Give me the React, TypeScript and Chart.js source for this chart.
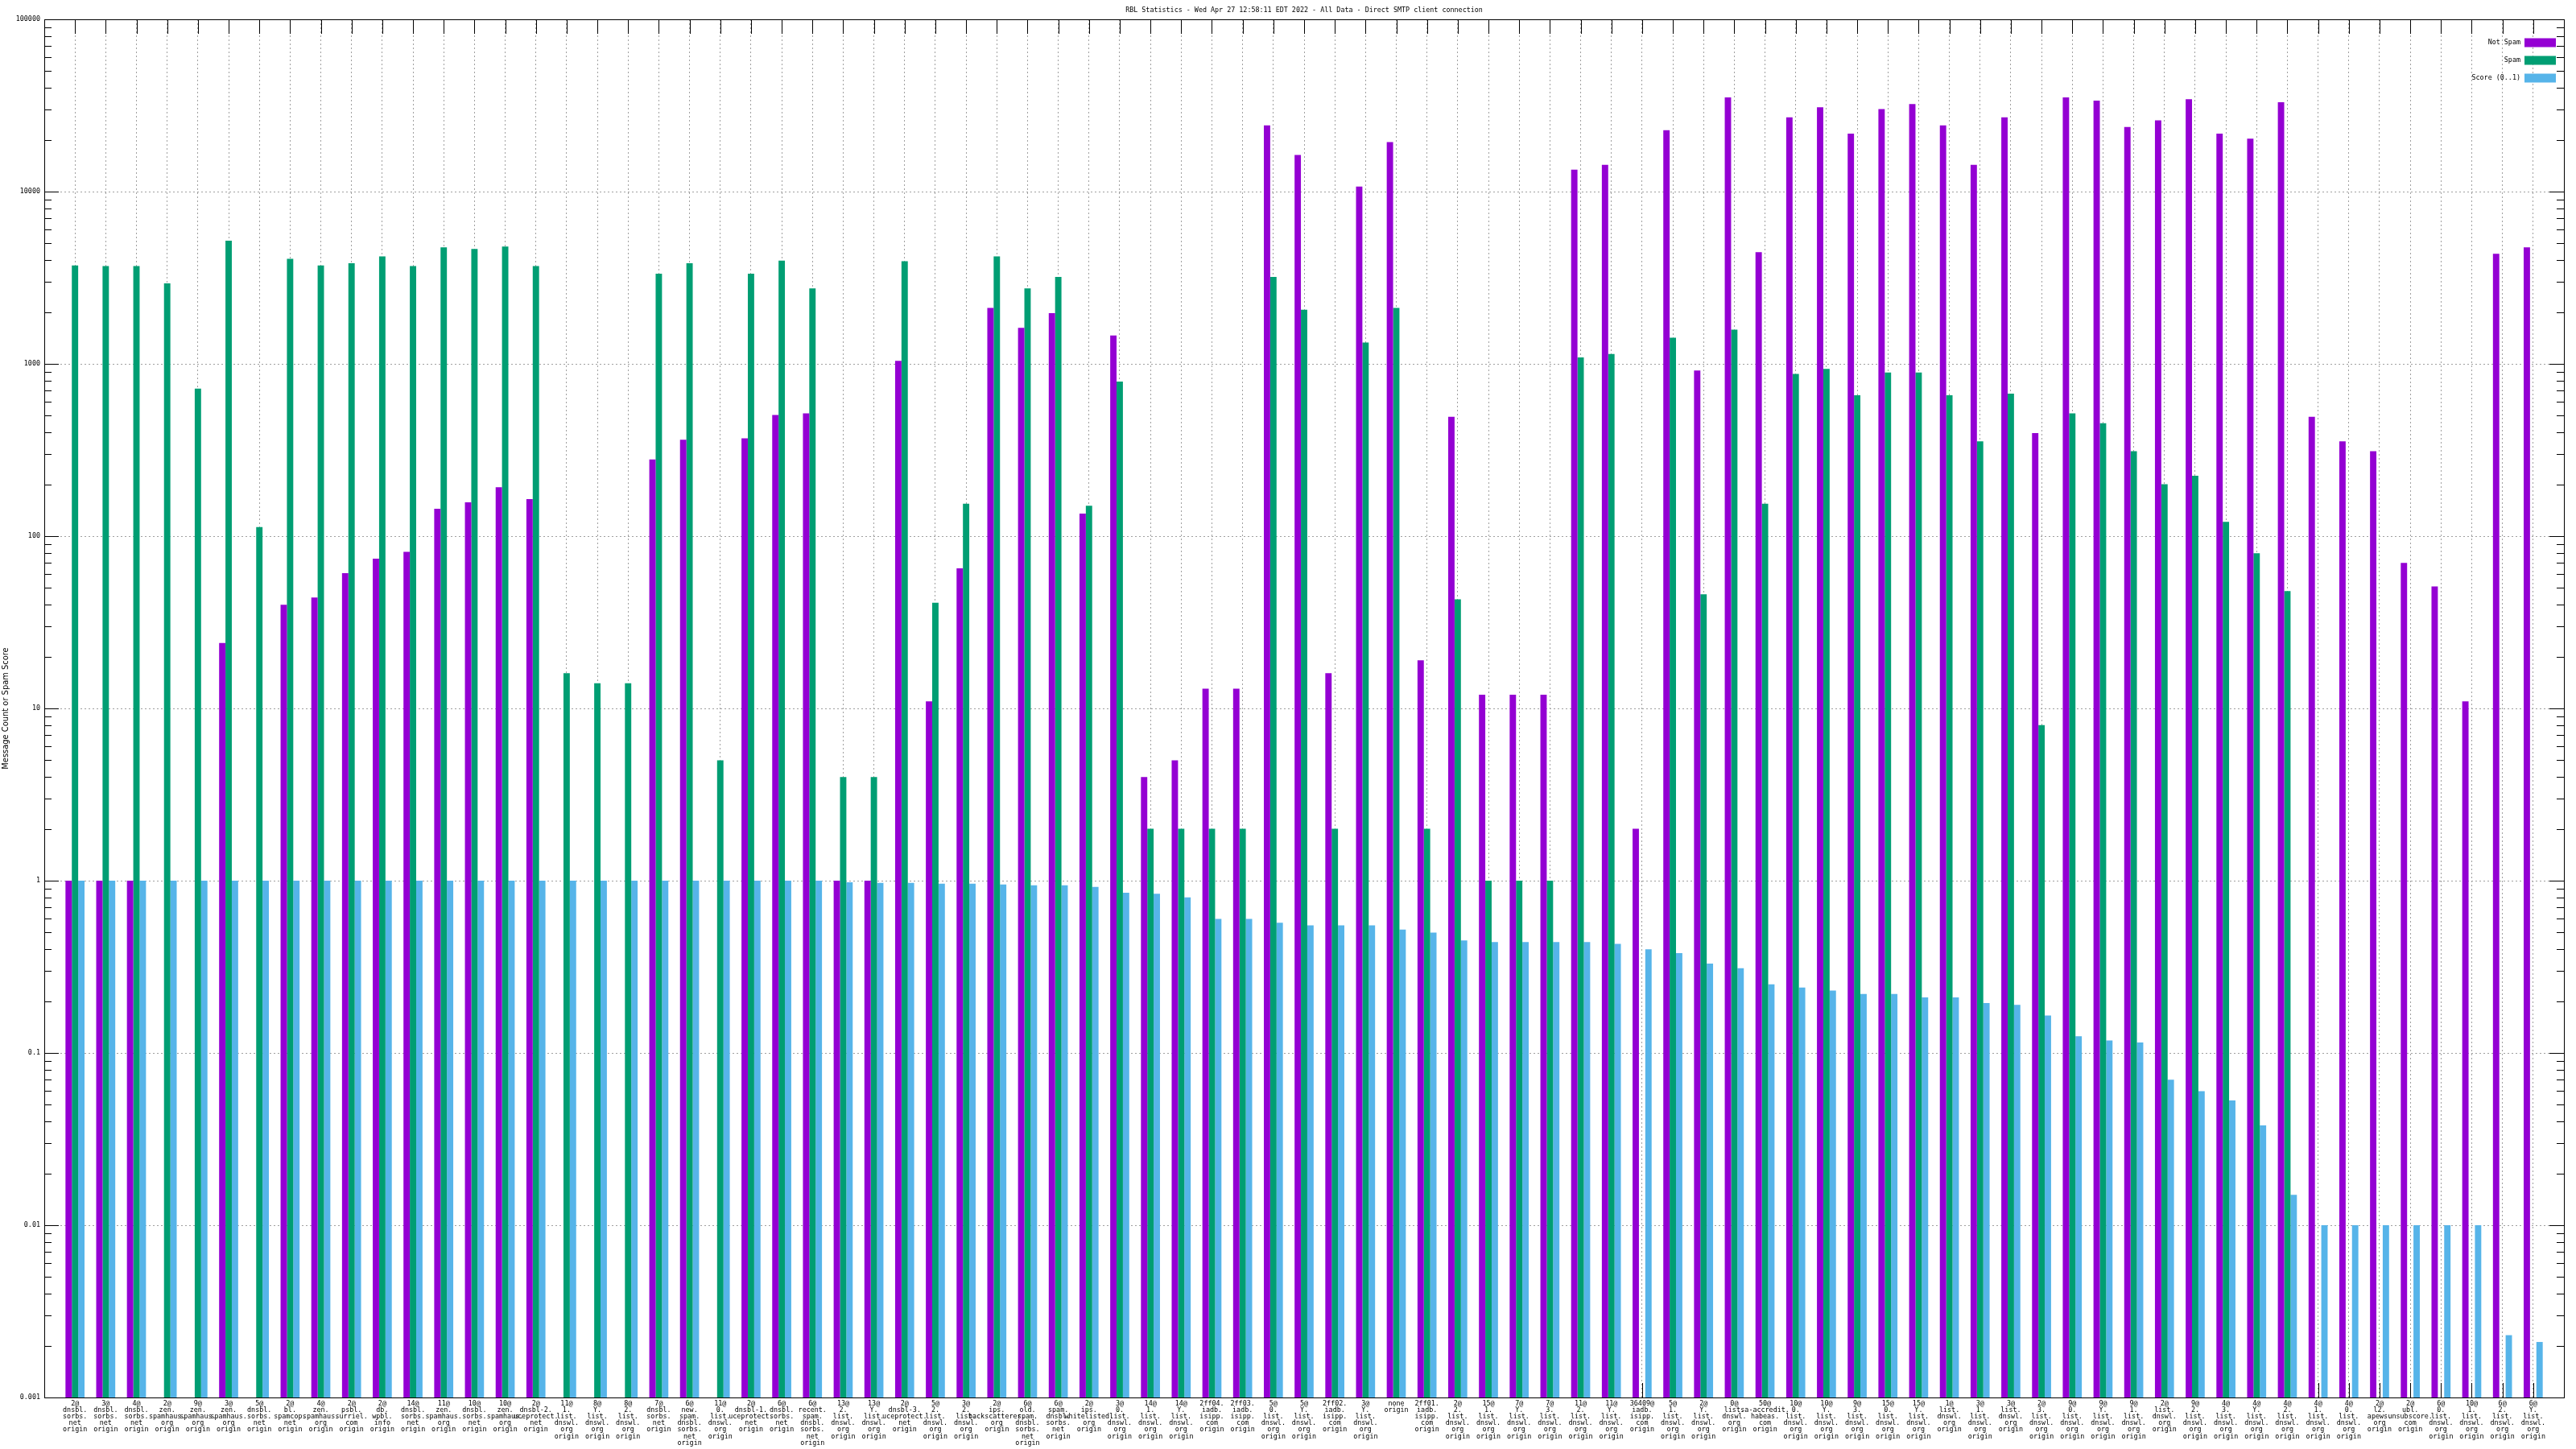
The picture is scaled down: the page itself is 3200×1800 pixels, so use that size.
import React, { useEffect, useRef } from 'react';
import { Chart, registerables } from 'chart.js';

Chart.register(...registerables);

const chartTitle =
  'RBL Statistics - Wed Apr 27 12:58:11 EDT 2022 - All Data - Direct SMTP client connection';
const yAxisTitle = 'Message Count or Spam Score';
const seriesNames = ['Not Spam', 'Spam', 'Score (0..1)'];
const seriesColors = ['#9400d3', '#009e73', '#56b4e9'];

const categories = [
  '2@dnsbl.sorbs.net origin', '3@dnsbl.sorbs.net origin', '4@dnsbl.sorbs.net origin',
  '2@zen.spamhaus.org origin', '9@zen.spamhaus.org origin', '3@zen.spamhaus.org origin',
  '5@dnsbl.sorbs.net origin', '2@bl.spamcop.net origin', '4@zen.spamhaus.org origin',
  '2@psbl.surriel.com origin', '2@db.wpbl.info origin', '14@dnsbl.sorbs.net origin',
  '11@zen.spamhaus.org origin', '10@dnsbl.sorbs.net origin', '10@zen.spamhaus.org origin',
  '2@dnsbl-2.uceprotect.net origin', '11@1.list.dnswl.org origin', '8@Y.list.dnswl.org origin',
  '8@2.list.dnswl.org origin', '7@dnsbl.sorbs.net origin', '6@new.spam.dnsbl.sorbs.net origin',
  '11@0.list.dnswl.org origin', '2@dnsbl-1.uceprotect.net origin', '6@dnsbl.sorbs.net origin',
  '6@recent.spam.dnsbl.sorbs.net origin', '13@2.list.dnswl.org origin', '13@Y.list.dnswl.org origin',
  '2@dnsbl-3.uceprotect.net origin', '5@2.list.dnswl.org origin', '3@2.list.dnswl.org origin',
  '2@ips.backscatterer.org origin', '6@old.spam.dnsbl.sorbs.net origin', '6@spam.dnsbl.sorbs.net origin',
  '2@ips.whitelisted.org origin', '3@0.list.dnswl.org origin', '14@1.list.dnswl.org origin',
  '14@Y.list.dnswl.org origin', '2ff04.iadb.isipp.com origin', '2ff03.iadb.isipp.com origin',
  '5@0.list.dnswl.org origin', '5@Y.list.dnswl.org origin', '2ff02.iadb.isipp.com origin',
  '3@Y.list.dnswl.org origin', 'none origin', '2ff01.iadb.isipp.com origin',
  '2@2.list.dnswl.org origin', '15@1.list.dnswl.org origin', '7@Y.list.dnswl.org origin',
  '7@3.list.dnswl.org origin', '11@2.list.dnswl.org origin', '11@Y.list.dnswl.org origin',
  '36409@iadb.isipp.com origin', '5@1.list.dnswl.org origin', '2@Y.list.dnswl.org origin',
  '0@list.dnswl.org origin', '50@sa-accredit.habeas.com origin', '10@0.list.dnswl.org origin',
  '10@Y.list.dnswl.org origin', '9@3.list.dnswl.org origin', '15@0.list.dnswl.org origin',
  '15@Y.list.dnswl.org origin', '1@list.dnswl.org origin', '3@1.list.dnswl.org origin',
  '3@list.dnswl.org origin', '2@3.list.dnswl.org origin', '9@0.list.dnswl.org origin',
  '9@Y.list.dnswl.org origin', '9@1.list.dnswl.org origin', '2@list.dnswl.org origin',
  '9@2.list.dnswl.org origin', '4@3.list.dnswl.org origin', '4@Y.list.dnswl.org origin',
  '4@2.list.dnswl.org origin', '4@1.list.dnswl.org origin', '4@0.list.dnswl.org origin',
  '2@l2.apews.org origin', '2@ubl.unsubscore.com origin', '6@0.list.dnswl.org origin',
  '10@1.list.dnswl.org origin', '6@2.list.dnswl.org origin', '6@Y.list.dnswl.org origin',
];

const notSpam: (number | null)[] = [
  1, 1, 1, null, null, 24, null, 40, 44, 61,
  74, 81, 144, 157, 192, 164, null, null, null, 279,
  363, null, 370, 505, 516, 1, 1, 1040, 11, 65,
  2110, 1620, 1970, 135, 1460, 4, 5, 13, 13, 24200,
  16300, 16, 10700, 19400, 19, 493, 12, 12, 12, 13400,
  14300, 2, 22700, 914, 35200, 4450, 27000, 30900, 21700, 30100,
  32200, 24200, 14300, 27000, 396, 35200, 33700, 23700, 25900, 34400,
  21700, 20300, 33000, 493, 355, 311, 70, 51, 11, 4360,
  4750,
];

const spam: (number | null)[] = [
  3730, 3700, 3700, 2930, 718, 5190, 113, 4070, 3730, 3840,
  4200, 3700, 4750, 4650, 4800, 3700, 16, 14, 14, 3340,
  3840, 5, 3340, 3980, 2740, 4, 4, 3940, 41, 154,
  4200, 2740, 3200, 150, 790, 2, 2, 2, 2, 3200,
  2060, 2, 1330, 2110, 2, 43, 1, 1, 1, 1090,
  1140, null, 1420, 46, 1580, 154, 875, 935, 658, 890,
  890, 658, 355, 671, 8, 516, 452, 311, 200, 224,
  121, 79.5, 48, null, null, null, null, null, null, null,
  null,
];

const score: (number | null)[] = [
  1, 1, 1, 1, 1, 1, 1, 1, 1, 1,
  1, 1, 1, 1, 1, 1, 1, 1, 1, 1,
  1, 1, 1, 1, 1, 0.98, 0.97, 0.97, 0.96, 0.96,
  0.95, 0.94, 0.94, 0.92, 0.85, 0.84, 0.8, 0.6, 0.6, 0.57,
  0.55, 0.55, 0.55, 0.52, 0.5, 0.45, 0.44, 0.44, 0.44, 0.44,
  0.43, 0.4, 0.38, 0.33, 0.31, 0.25, 0.24, 0.23, 0.22, 0.22,
  0.21, 0.21, 0.195, 0.19, 0.165, 0.125, 0.118, 0.115, 0.07, 0.06,
  0.053, 0.038, 0.015, 0.01, 0.01, 0.01, 0.01, 0.01, 0.01, 0.0023,
  0.0021,
];

const yTickLabels = ['0.001', '0.01', '0.1', '1', '10', '100', '1000', '10000', '100000'];

const MONO = '"DejaVu Sans Mono", "Liberation Mono", monospace';
const NARROW = '"Liberation Sans Narrow", "DejaVu Sans Condensed", "DejaVu Sans", sans-serif';

function splitLabel(s: string): string[] {
  const [host, tail] = s.split(' ');
  const parts: string[] = [];
  let cur = '';
  for (const ch of host) {
    cur += ch;
    if (ch === '@' || ch === '.') {
      parts.push(cur);
      cur = '';
    }
  }
  if (cur) parts.push(cur);
  if (tail) parts.push(tail);
  return parts;
}

const isDecade = (v: number) => {
  const l = Math.log10(v);
  return Math.abs(l - Math.round(l)) < 1e-6;
};

const decor = {
  id: 'decor',
  beforeDatasetsDraw(chart: any) {
    const { ctx, chartArea: a, scales } = chart;
    const x = scales.x;
    const y = scales.y;
    ctx.save();
    ctx.strokeStyle = '#000';
    ctx.lineWidth = 1;
    ctx.beginPath();
    for (const t of y.ticks) {
      const py = Math.round(y.getPixelForValue(t.value)) + 0.5;
      const len = isDecade(t.value) ? 18 : 9;
      ctx.moveTo(a.left, py);
      ctx.lineTo(a.left + len, py);
      ctx.moveTo(a.right, py);
      ctx.lineTo(a.right - len, py);
    }
    for (const t of x.ticks) {
      const px = Math.round(x.getPixelForValue(t.value)) + 0.5;
      ctx.moveTo(px, a.top);
      ctx.lineTo(px, a.top + 18);
      ctx.moveTo(px, a.bottom);
      ctx.lineTo(px, a.bottom - 18);
    }
    ctx.stroke();
    ctx.restore();
  },
  afterDraw(chart: any) {
    const { ctx, chartArea: a } = chart;
    ctx.save();
    ctx.strokeStyle = '#000';
    ctx.lineWidth = 1;
    ctx.strokeRect(
      Math.round(a.left) + 0.5,
      Math.round(a.top) + 0.5,
      Math.round(a.right - a.left),
      Math.round(a.bottom - a.top)
    );
    ctx.fillStyle = '#000';
    ctx.font = `8.4px ${MONO}`;
    ctx.textAlign = 'center';
    ctx.textBaseline = 'middle';
    ctx.fillText(chartTitle, (a.left + a.right) / 2, 12.5);
    ctx.textAlign = 'right';
    chart.data.datasets.forEach((ds: any, i: number) => {
      const cy = a.top + 29 + i * 22;
      ctx.fillStyle = '#000';
      ctx.fillText(ds.label, a.right - 54, cy);
      ctx.fillStyle = ds.backgroundColor;
      ctx.fillRect(a.right - 49, cy - 5.5, 39, 11);
    });
    ctx.restore();
  },
};

export default function App() {
  const ref = useRef<HTMLCanvasElement | null>(null);

  useEffect(() => {
    document.body.style.margin = '0';
    const canvas = ref.current;
    if (!canvas) return;
    const xs = categories.map((_, i) => i + 1);
    const labelLines = categories.map(splitLabel);
    const yTickValues: number[] = [];
    for (let k = -3; k <= 4; k++) {
      for (let m = 1; m <= 9; m++) yTickValues.push(Number((m * Math.pow(10, k)).toPrecision(6)));
    }
    yTickValues.push(100000);

    const datasets = [notSpam, spam, score].map((arr, k) => ({
      label: seriesNames[k],
      data: arr.map((v, i) => ({ x: xs[i], y: v })),
      backgroundColor: seriesColors[k],
      borderWidth: 0,
      categoryPercentage: 0.62,
      barPercentage: 1,
    }));

    const chart = new Chart(canvas, {
      type: 'bar',
      data: { datasets } as any,
      plugins: [decor],
      options: {
        animation: false,
        responsive: false,
        devicePixelRatio: 1,
        events: [],
        layout: { padding: { top: 24, right: 15, left: 0, bottom: 0 } },
        plugins: {
          legend: { display: false },
          title: { display: false },
          tooltip: { enabled: false },
        },
        scales: {
          x: {
            type: 'linear',
            min: 0,
            max: categories.length + 1,
            offset: false,
            afterBuildTicks: (s: any) => {
              s.ticks = xs.map((v) => ({ value: v }));
            },
            afterFit: (s: any) => {
              s.height = 64;
            },
            grid: { offset: false, color: '#a0a0a0', lineWidth: 1, drawTicks: false },
            border: { display: false, dash: [2, 3] },
            ticks: {
              autoSkip: false,
              maxRotation: 0,
              minRotation: 0,
              padding: 4,
              color: '#000',
              font: { family: MONO, size: 8.4, lineHeight: 0.96 },
              callback: (v: any) => labelLines[Math.round(Number(v)) - 1] ?? '',
            },
          },
          y: {
            type: 'logarithmic',
            min: 0.001,
            max: 100000,
            afterBuildTicks: (s: any) => {
              s.ticks = yTickValues.map((v) => ({ value: v, major: isDecade(v) }));
            },
            afterFit: (s: any) => {
              s.width = 55;
            },
            grid: {
              color: (c: any) => (c.tick && isDecade(c.tick.value) ? '#a0a0a0' : 'rgba(0,0,0,0)'),
              lineWidth: 1,
              drawTicks: false,
            },
            border: { display: false, dash: [2, 3] },
            ticks: {
              autoSkip: false,
              padding: 5,
              color: '#000',
              font: { family: MONO, size: 8.4 },
              callback: (v: any) => {
                const n = Number(v);
                if (!isDecade(n)) return '';
                return yTickLabels[Math.round(Math.log10(n)) + 3] ?? '';
              },
            },
            title: {
              display: true,
              text: yAxisTitle,
              color: '#000',
              font: { family: NARROW, size: 11 },
              padding: { top: 1, bottom: 0 },
            },
          },
        },
      } as any,
    });
    return () => chart.destroy();
  }, []);

  return (
    <div style={{ width: 3200, height: 1800 }}>
      <canvas ref={ref} width={3200} height={1800} style={{ display: 'block' }} />
    </div>
  );
}
